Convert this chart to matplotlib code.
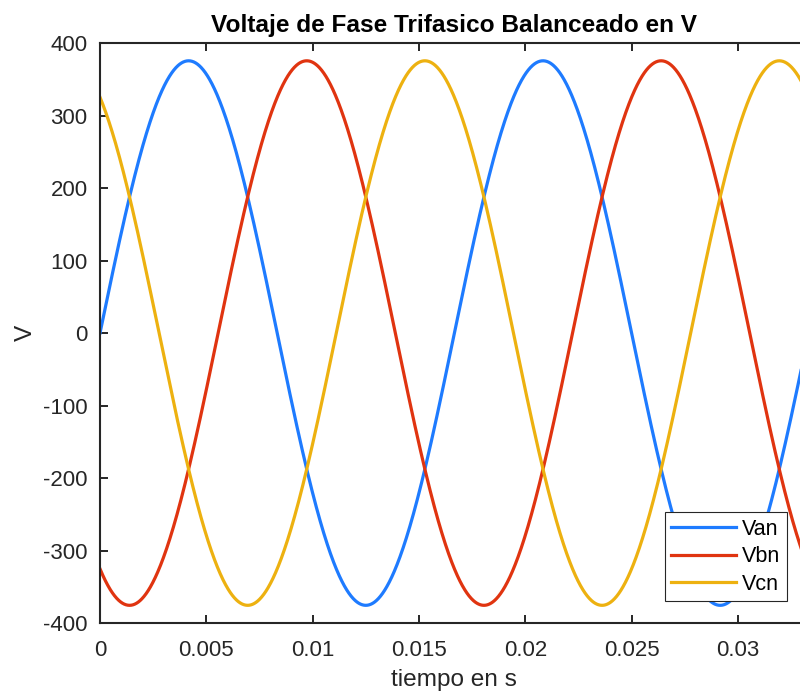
import matplotlib as mpl
import matplotlib.pyplot as plt
import numpy as np

# three-phase balanced system, phase voltages
amplitude = 375.6          # peak phase voltage in V
freq = 60                  # Hz
phase_deg = [0, -120, 120] # Van, Vbn, Vcn
names = ["Van", "Vbn", "Vcn"]
colors = ["#1E7BFF", "#E03410", "#EDB110"]
t_end = 2 / freq
xticks = [0, 0.005, 0.01, 0.015, 0.02, 0.025, 0.03]
xtick_labels = ["0", "0.005", "0.01", "0.015", "0.02", "0.025", "0.03"]
yticks = [-400, -300, -200, -100, 0, 100, 200, 300, 400]

plt.rcParams['font.family'] = ['Liberation Sans', 'DejaVu Sans']
plt.rcParams['axes.unicode_minus'] = False

t = np.linspace(0, t_end, 2000)
w = 2 * np.pi * freq

fig = plt.figure(figsize=(8, 6.92), dpi=100)
ax = fig.add_axes([0.125, 0.0997, 0.886, 0.838])

for ph, name, c in zip(phase_deg, names, colors):
    v = amplitude * np.sin(w * t + np.deg2rad(ph))
    ax.plot(t, v, color=c, linewidth=2.3, label=name)

ax.set_xlim(0, t_end)
ax.set_ylim(-400, 400)
ax.set_xticks(xticks)
ax.set_xticklabels(xtick_labels)
ax.set_yticks(yticks)
ax.tick_params(direction='in', length=6, width=1.4, top=True, right=True,
               labelsize=16, colors='#262626', pad=9)
ax.tick_params(axis='x', pad=12)
for s in ax.spines.values():
    s.set_linewidth(1.5)
    s.set_color('#262626')

ax.set_title("Voltaje de Fase Trifasico Balanceado en V", fontsize=17.6,
             fontweight='bold', pad=8)
ax.set_xlabel("tiempo en s", fontsize=17.6, color='#262626', labelpad=6)
ax.set_ylabel("V", fontsize=17.6, color='#262626', labelpad=4)

leg = ax.legend(loc='lower right', bbox_to_anchor=(0.969, 0.038),
                fontsize=15.5, fancybox=False, framealpha=1,
                edgecolor='#262626', handlelength=3.0, borderpad=0.3,
                labelspacing=0.3, handletextpad=0.3, borderaxespad=0)
leg.get_frame().set_linewidth(0.8)

fig.savefig("out.png", dpi=100)
